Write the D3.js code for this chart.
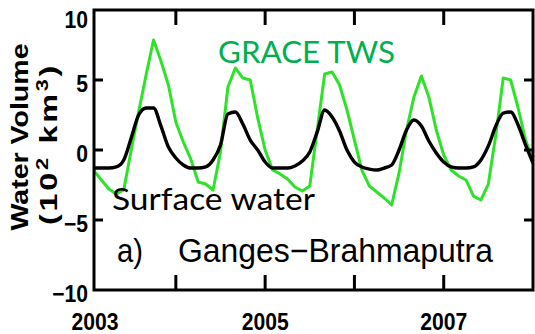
<!DOCTYPE html>
<html>
<head>
<meta charset="utf-8">
<script src="https://cdn.jsdelivr.net/npm/d3@7"></script>
<style>
  html, body { margin: 0; padding: 0; background: #fff; }
  svg { display: block; }
</style>
</head>
<body>
<svg id="chart" width="535" height="334"></svg>
<script>
// Monthly water storage anomalies, Ganges–Brahmaputra basin (10^2 km^3)
const firstMonth = 2003 + 1 / 12;   // Feb 2003
const lastMonth = 2008;

const graceTWS = [
  -1.5, -2.14, -2.79, -3.14, -2.86, 0, 2.71, 5.36, 7.86, 6.36, 4.64, 2.0,
  0.57, -0.64, -2.29, -2.43, -2.86, -0.14, 4.5, 5.86, 5.14, 5.0, 2.29, 0,
  -1.43, -1.71, -2.07, -2.64, -2.93, -2.57, 1.43, 5.43, 5.57, 4.64, 2.86, 0.71,
  -1.43, -2.57, -3.0, -3.43, -3.93, -1.64, 1.43, 3.79, 5.29, 3.79, 1.43, -0.36,
  -1.43, -1.86, -2.14, -3.29, -3.57, -2.43, 1.07, 5.14, 5.0, 3.0, 0.71, -0.71
];

const surfaceWater = [
  -1.29, -1.29, -1.29, -1.21, -0.71, 0.86, 2.5, 3.0, 3.0, 1.71, 0.21, -0.57,
  -1.07, -1.29, -1.29, -1.21, -0.71, 0.36, 2.57, 2.71, 1.86, 0.71, 0, -0.86,
  -1.29, -1.29, -1.29, -1.14, -0.79, -0.14, 1.29, 2.86, 2.36, 1.36, 0, -0.86,
  -1.21, -1.36, -1.43, -1.29, -1.07, 0, 1.43, 2.14, 1.71, 0.64, -0.21, -0.86,
  -1.21, -1.29, -1.29, -1.21, -0.71, 0.29, 1.71, 2.64, 2.71, 1.79, 0.36, -0.93
];

const yTicks = [-10, -5, 0, 5, 10];
const xTickYears = [2004, 2005, 2006, 2007];
const xLabelYears = [2003, 2005, 2007];

const months = graceTWS.map((_, i) => firstMonth + i / 12);

const svg = d3.select("#chart");
const frame = { left: 94, top: 10, right: 533, bottom: 290 };

const x = d3.scaleLinear().domain([firstMonth, lastMonth]).range([frame.left, frame.right]);
const y = d3.scaleLinear().domain([-10, 10]).range([frame.bottom, frame.top]);

const axisFont = "'Liberation Sans', Arial, sans-serif";

// clip for the series
svg.append("clipPath").attr("id", "plotClip")
  .append("rect")
  .attr("x", frame.left).attr("y", frame.top)
  .attr("width", frame.right - frame.left).attr("height", frame.bottom - frame.top);

// series lines
const tws = d3.line().x((d, i) => x(months[i])).y(d => y(d)).curve(d3.curveLinear);
const sw = d3.line().x((d, i) => x(months[i])).y(d => y(d)).curve(d3.curveMonotoneX);

const g = svg.append("g").attr("clip-path", "url(#plotClip)");
g.append("path").datum(graceTWS)
  .attr("d", tws).attr("fill", "none")
  .attr("stroke", "#2ee22a").attr("stroke-width", 3)
  .attr("stroke-linejoin", "round");
g.append("path").datum(surfaceWater)
  .attr("d", sw).attr("fill", "none")
  .attr("stroke", "#000").attr("stroke-width", 3.4)
  .attr("stroke-linejoin", "round");

// frame
svg.append("rect")
  .attr("x", frame.left).attr("y", frame.top)
  .attr("width", frame.right - frame.left).attr("height", frame.bottom - frame.top)
  .attr("fill", "none").attr("stroke", "#000").attr("stroke-width", 3);

// inward tick marks on all four sides
const yInner = yTicks.filter(v => v > -10 && v < 10);
svg.append("g").selectAll("line.yl").data(yInner).join("line")
  .attr("x1", frame.left).attr("x2", frame.left + 9)
  .attr("y1", d => y(d)).attr("y2", d => y(d))
  .attr("stroke", "#000").attr("stroke-width", 3);
svg.append("g").selectAll("line.yr").data(yInner).join("line")
  .attr("x1", frame.right).attr("x2", frame.right - 9)
  .attr("y1", d => y(d)).attr("y2", d => y(d))
  .attr("stroke", "#000").attr("stroke-width", 3);
svg.append("g").selectAll("line.xb").data(xTickYears).join("line")
  .attr("x1", d => x(d)).attr("x2", d => x(d))
  .attr("y1", frame.bottom).attr("y2", frame.bottom - 15)
  .attr("stroke", "#000").attr("stroke-width", 3);
svg.append("g").selectAll("line.xt").data(xTickYears).join("line")
  .attr("x1", d => x(d)).attr("x2", d => x(d))
  .attr("y1", frame.top).attr("y2", frame.top + 15)
  .attr("stroke", "#000").attr("stroke-width", 3);

// y tick labels
svg.append("g").selectAll("text").data(yTicks).join("text")
  .attr("transform", d => `translate(88,${Math.max(y(d) + 3, 19) + 9}) scale(0.88,1)`)
  .attr("text-anchor", "end")
  .attr("font-family", axisFont).attr("font-weight", "bold").attr("font-size", 24)
  .attr("fill", "#000")
  .text(d => d < 0 ? "\u2212" + Math.abs(d) : String(d));

// x tick labels
svg.append("g").selectAll("text").data(xLabelYears).join("text")
  .attr("transform", d => `translate(${Math.max(x(d), frame.left + 1)},330) scale(0.88,1)`)
  .attr("text-anchor", "middle")
  .attr("font-family", axisFont).attr("font-weight", "bold").attr("font-size", 24)
  .attr("fill", "#000")
  .text(d => String(d));

// y axis title (two lines)
svg.append("text")
  .attr("transform", "translate(28,137) rotate(-90)")
  .attr("text-anchor", "middle")
  .attr("font-family", axisFont).attr("font-weight", "bold").attr("font-size", 24)
  .attr("textLength", 187).attr("lengthAdjust", "spacingAndGlyphs")
  .text("Water Volume");

const unitsTitle = svg.append("text")
  .attr("transform", "translate(57,144) rotate(-90) scale(1.35,1)")
  .attr("text-anchor", "middle")
  .attr("font-family", axisFont).attr("font-weight", "bold").attr("font-size", 24)
  .attr("letter-spacing", 2);
unitsTitle.append("tspan").text("(10");
unitsTitle.append("tspan").attr("font-size", 16).attr("dy", -9).text("2");
unitsTitle.append("tspan").attr("dy", 9).text(" km");
unitsTitle.append("tspan").attr("font-size", 16).attr("dy", -9).text("3");
unitsTitle.append("tspan").attr("dy", 9).text(")");

// panel label
const panelFont = "'Liberation Sans', Arial, sans-serif";
svg.append("text")
  .attr("x", 117).attr("y", 262)
  .attr("font-family", panelFont).attr("font-size", 33)
  .attr("textLength", 26).attr("lengthAdjust", "spacingAndGlyphs")
  .text("a)");
svg.append("text")
  .attr("x", 178).attr("y", 262)
  .attr("font-family", panelFont).attr("font-size", 33)
  .attr("textLength", 315).attr("lengthAdjust", "spacingAndGlyphs")
  .text("Ganges\u2212Brahmaputra");

// series annotations
const noteFont = "Lato, 'Open Sans', sans-serif";
svg.append("text")
  .attr("x", 218).attr("y", 63)
  .attr("font-family", noteFont).attr("font-size", 30)
  .attr("fill", "#00b050")
  .attr("textLength", 177).attr("lengthAdjust", "spacingAndGlyphs")
  .text("GRACE TWS");
svg.append("text")
  .attr("x", 112).attr("y", 210)
  .attr("font-family", noteFont).attr("font-size", 30)
  .attr("fill", "#000")
  .attr("textLength", 203).attr("lengthAdjust", "spacingAndGlyphs")
  .text("Surface water");
</script>
</body>
</html>
